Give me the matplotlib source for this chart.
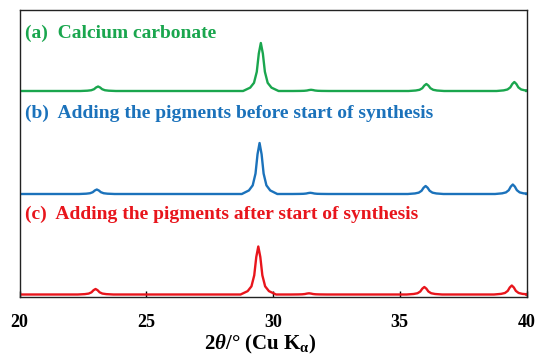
import matplotlib
matplotlib.use("Agg")
import matplotlib.pyplot as plt

# ---- data (intensity in arbitrary units) ----
labels = ["(a)  Calcium carbonate",
          "(b)  Adding the pigments before start of synthesis",
          "(c)  Adding the pigments after start of synthesis"]
colors = ["#1aa64e", "#1b72bb", "#e8151c"]
offsets = [206, 103, 2.5]

# peak positions (2theta) and heights for each sample
peaks_a = [23.10, 29.52, 31.50, 36.05, 39.52]
heights_a = [4.5, 48, 1.2, 7.0, 9.0]
peaks_b = [23.05, 29.47, 31.47, 36.02, 39.46]
heights_b = [4.5, 51, 1.2, 8.0, 9.5]
peaks_c = [23.00, 29.42, 31.42, 35.97, 39.42]
heights_c = [5.5, 48, 1.2, 7.5, 9.0]

# sampled profile shape around each peak: offsets from centre and relative heights
shape_dx = [-0.70, -0.42, -0.27, -0.16, -0.08, 0.0, 0.08, 0.16, 0.27, 0.42, 0.70]
shape_rel = [0.0, 0.07, 0.17, 0.40, 0.78, 1.0, 0.78, 0.40, 0.17, 0.07, 0.0]

xticks = [20, 25, 30, 35, 40]

plt.rcParams['font.family'] = ['Liberation Serif', 'DejaVu Serif']
plt.rcParams['mathtext.fontset'] = 'custom'
plt.rcParams['mathtext.rm'] = 'Liberation Serif:bold'
plt.rcParams['mathtext.it'] = 'Liberation Serif:bold:italic'
plt.rcParams['mathtext.bf'] = 'Liberation Serif:bold'

fig = plt.figure(figsize=(5.37, 3.54), dpi=100)
ax = fig.add_axes([19.5/537, 1-297/354, 507/537, 287/354])

def build(peaks, heights, base):
    xs = [20.0]
    ys = [base]
    for p, h in zip(peaks, heights):
        for dx, r in zip(shape_dx, shape_rel):
            xs.append(p + dx)
            ys.append(base + h * r)
    xs.append(40.0)
    ys.append(base)
    return xs, ys

for (pk, ht), col, off in zip([(peaks_a, heights_a), (peaks_b, heights_b), (peaks_c, heights_c)],
                              colors, offsets):
    xs, ys = build(pk, ht, off)
    ax.plot(xs, ys, color=col, lw=1.7, solid_joinstyle='round')

ax.set_xlim(20, 40)
ax.set_ylim(0, 287)
ax.set_yticks([])
ax.set_xticks(xticks)
ax.set_xticklabels([str(t) for t in xticks], fontsize=13, fontweight='bold')
ax.tick_params(axis='x', direction='in', length=4, width=1, pad=12)
for s in ax.spines.values():
    s.set_linewidth(1.0)
    s.set_color('#222222')

label_y = [264, 184, 83]
for lab, col, yy in zip(labels, colors, label_y):
    ax.text(20.2, yy, lab, color=col, fontsize=14, fontweight='bold', va='center', ha='left')

fig.text(260/537, 1-344/354, r'$2\mathit{\theta}$/° (Cu K$_{\mathrm{\alpha}}$)',
         ha='center', va='center', fontsize=15, fontweight='bold')

fig.savefig("out.png", dpi=100)
